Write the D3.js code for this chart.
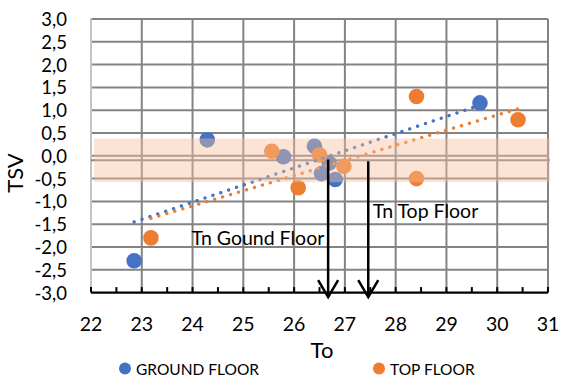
<!DOCTYPE html>
<html>
<head>
<meta charset="utf-8">
<script src="https://cdn.jsdelivr.net/npm/d3@7"></script>
<style>
  html, body { margin: 0; padding: 0; background: #fff; }
  svg { display: block; font-family: Lato, "Open Sans", sans-serif; }
</style>
</head>
<body>
<svg id="chart" width="563" height="379"></svg>
<script>
// Outdoor temperature (To) against thermal sensation vote (TSV)
const groundTo  = [22.85, 24.29, 25.79, 26.40, 26.54, 26.69, 26.81, 29.66];
const groundTSV = [-2.30, 0.35, -0.02, 0.21, -0.39, -0.16, -0.52, 1.16];
const topTo     = [23.18, 25.56, 26.08, 26.50, 26.98, 28.41, 28.41, 30.41];
const topTSV    = [-1.80, 0.10, -0.70, 0.02, -0.23, 1.30, -0.50, 0.79];

// linear trend lines, end points
const groundTrend = [[22.85, -1.45], [29.66, 1.11]];
const topTrend    = [[23.18, -1.37], [30.41, 1.03]];

// comfort band and neutral vote
const bandTSV = [-0.58, 0.38];
const bandTo  = [22.06, 31.04];
const neutralTSV = -0.1;

// neutral temperatures (arrow x, arrow top TSV)
const tnArrows = [
  { to: 26.67, tsv: -0.08, label: "Tn Gound Floor", lx: 23.98, ly: -1.95 },
  { to: 27.46, tsv: -0.12, label: "Tn Top Floor",   lx: 27.55, ly: -1.37 }
];

const xTicks = [22, 23, 24, 25, 26, 27, 28, 29, 30, 31];
const yTicks = [-3, -2.5, -2, -1.5, -1, -0.5, 0, 0.5, 1, 1.5, 2, 2.5, 3];

const seriesNames = ["GROUND FLOOR", "TOP FLOOR"];
const colors = ["#4472C4", "#ED7D31"];

const svg = d3.select("#chart");
const x = d3.scaleLinear().domain([22, 31]).range([91, 548]);
const y = d3.scaleLinear().domain([-3, 3]).range([292.6, 19]);

const fmt = v => d3.format(".1f")(v).replace(".", ",").replace("−", "-");

// gridlines
const grid = svg.append("g");
grid.selectAll("line.h").data(yTicks.filter(v => v > -3)).join("line")
  .attr("x1", x(22)).attr("x2", x(31))
  .attr("y1", d => y(d)).attr("y2", d => y(d))
  .attr("stroke", "#838383").attr("stroke-width", 2);
grid.selectAll("line.v").data(xTicks.filter(v => v > 22)).join("line")
  .attr("x1", d => x(d)).attr("x2", d => x(d))
  .attr("y1", y(3)).attr("y2", y(-3))
  .attr("stroke", "#838383").attr("stroke-width", 2);

// y axis line
svg.append("line")
  .attr("x1", x(22)).attr("x2", x(22))
  .attr("y1", y(3) - 1).attr("y2", y(-3))
  .attr("stroke", "#c4c4c4").attr("stroke-width", 2);

// neutral vote line
svg.append("line")
  .attr("x1", x(22)).attr("x2", x(bandTo[1]))
  .attr("y1", y(neutralTSV)).attr("y2", y(neutralTSV))
  .attr("stroke", "#838383").attr("stroke-width", 2);

// points
const series = [
  { name: seriesNames[0], color: colors[0], xs: groundTo, ys: groundTSV, trend: groundTrend },
  { name: seriesNames[1], color: colors[1], xs: topTo, ys: topTSV, trend: topTrend }
];

series.forEach(s => {
  svg.append("g").selectAll("circle")
    .data(s.xs.map((v, i) => [v, s.ys[i]]))
    .join("circle")
    .attr("cx", d => x(d[0])).attr("cy", d => y(d[1]))
    .attr("r", 7.8).attr("fill", s.color);
});

// dotted trend lines
const line = d3.line().x(d => x(d[0])).y(d => y(d[1]));
series.forEach(s => {
  svg.append("path")
    .attr("d", line(s.trend))
    .attr("fill", "none").attr("stroke", s.color)
    .attr("stroke-width", 3.4).attr("stroke-linecap", "round")
    .attr("stroke-dasharray", "0.01 8.3");
});

// translucent comfort band
svg.append("rect")
  .attr("x", x(bandTo[0])).attr("width", x(bandTo[1]) - x(bandTo[0]))
  .attr("y", y(bandTSV[1])).attr("height", y(bandTSV[0]) - y(bandTSV[1]))
  .attr("fill", "rgb(245,193,158)").attr("fill-opacity", 0.43);

// x axis
const xAxisY = y(-3);
svg.append("line")
  .attr("x1", x(22)).attr("x2", x(31))
  .attr("y1", xAxisY).attr("y2", xAxisY)
  .attr("stroke", "#000").attr("stroke-width", 2.2);
const minorTicks = d3.range(22, 31.01, 0.5);
svg.append("g").selectAll("line").data(minorTicks).join("line")
  .attr("x1", d => x(d)).attr("x2", d => x(d))
  .attr("y1", xAxisY).attr("y2", xAxisY - 5.5)
  .attr("stroke", "#000").attr("stroke-width", 2);

svg.append("g").selectAll("text").data(xTicks).join("text")
  .attr("x", d => x(d)).attr("y", 330.5)
  .attr("text-anchor", "middle")
  .attr("font-size", 19.5).attr("fill", "#000")
  .text(d => d);

svg.append("g").selectAll("text").data(yTicks).join("text")
  .attr("x", 67).attr("y", d => y(d) + 7)
  .attr("text-anchor", "end")
  .attr("font-size", 18.5).attr("fill", "#000")
  .text(d => fmt(d));

// axis titles
svg.append("text")
  .attr("x", 322).attr("y", 357.5)
  .attr("text-anchor", "middle").attr("font-size", 22).attr("fill", "#000")
  .text("To");
svg.append("text")
  .attr("transform", "translate(23,173) rotate(-90)")
  .attr("text-anchor", "middle").attr("font-size", 22).attr("fill", "#000")
  .text("TSV");

// neutral temperature arrows
tnArrows.forEach(a => {
  const ax = x(a.to), tipY = xAxisY + 4.5;
  svg.append("line")
    .attr("x1", ax).attr("x2", ax)
    .attr("y1", y(a.tsv)).attr("y2", tipY)
    .attr("stroke", "#000").attr("stroke-width", 2.5);
  svg.append("path")
    .attr("d", `M${ax - 10},${tipY - 17}L${ax},${tipY}L${ax + 10},${tipY - 17}`)
    .attr("fill", "none").attr("stroke", "#000").attr("stroke-width", 2.5);
  svg.append("text")
    .attr("x", x(a.lx)).attr("y", y(a.ly))
    .attr("font-size", 19.5).attr("fill", "#000")
    .text(a.label);
});

// legend
const legend = [
  { cx: 125, tx: 136 },
  { cx: 379, tx: 390 }
];
legend.forEach((l, i) => {
  svg.append("circle").attr("cx", l.cx).attr("cy", 368.5).attr("r", 6).attr("fill", colors[i]);
  svg.append("text").attr("x", l.tx).attr("y", 374.5)
    .attr("font-size", 15.5).attr("fill", "#000")
    .text(seriesNames[i]);
});
</script>
</body>
</html>
